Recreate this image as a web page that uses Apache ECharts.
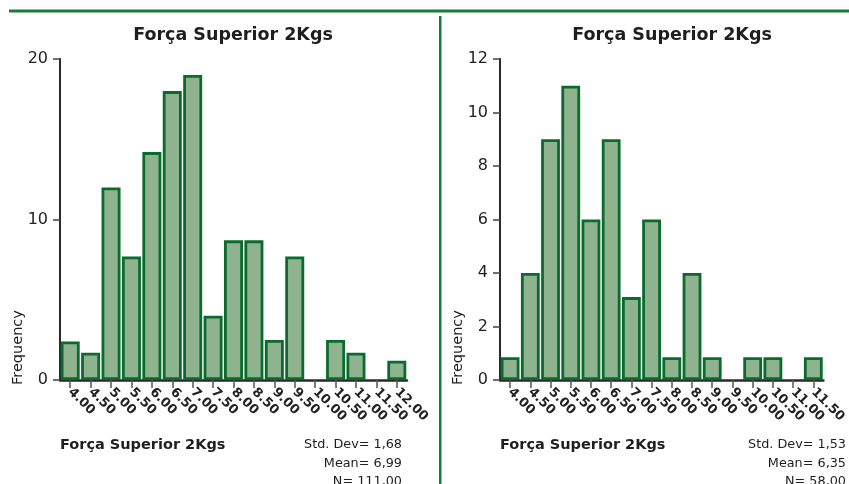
<!DOCTYPE html>
<html>
<head>
<meta charset="utf-8">
<script src="https://cdn.jsdelivr.net/npm/echarts@6/dist/echarts.min.js"></script>
<style>html,body{margin:0;padding:0;background:#fff;}#c{width:849px;height:484px;}</style>
</head>
<body>
<div id="c"></div>
<script>
const categoriesLeft = ['4.00','4.50','5.00','5.50','6.00','6.50','7.00','7.50','8.00','8.50','9.00','9.50','10.00','10.50','11.00','11.50','12.00'];
const valuesLeft = [2.4,1.7,12,7.7,14.2,18,19,4,8.7,8.7,2.5,7.7,0,2.5,1.7,0,1.2];
const categoriesRight = ['4.00','4.50','5.00','5.50','6.00','6.50','7.00','7.50','8.00','8.50','9.00','9.50','10.00','10.50','11.00','11.50'];
const valuesRight = [0.85,4,9,11,6,9,3.1,6,0.85,4,0.85,0,0.85,0.85,0,0.85];
const titleText = 'Força Superior 2Kgs';
const statsLeft = ['Std. Dev= 1,68','Mean= 6,99','N= 111,00'];
const statsRight = ['Std. Dev= 1,53','Mean= 6,35','N= 58,00'];
const yLeft = {max: 20, interval: 10};
const yRight = {max: 12, interval: 2};

const GREEN = '#0b6b2e';
const FILL = '#8fb38e';
const FONT = '"DejaVu Sans", sans-serif';

function xAxis(idx, cats) {
  return {
    type: 'category', gridIndex: idx, data: cats, boundaryGap: true,
    axisLine: {show: true, lineStyle: {color: '#2a2a2a', width: 2.5}},
    axisTick: {show: true, alignWithLabel: true, length: 8, lineStyle: {color: '#555', width: 1.5}},
    axisLabel: {rotate: -45, interval: 0, margin: 10, fontFamily: FONT, fontSize: 13, fontWeight: 'bold', color: '#222'},
    splitLine: {show: false}
  };
}
function yAxis(idx, cfg) {
  return {
    type: 'value', gridIndex: idx, min: 0, max: cfg.max, interval: cfg.interval,
    axisLine: {show: true, lineStyle: {color: '#2a2a2a', width: 2}},
    axisTick: {show: true, length: 7, lineStyle: {color: '#444', width: 1.5}},
    axisLabel: {margin: 12, fontFamily: FONT, fontSize: 16, color: '#222'},
    splitLine: {show: false}
  };
}
function barSeries(idx, vals) {
  return {
    type: 'bar', xAxisIndex: idx, yAxisIndex: idx,
    data: vals.map(v => v === 0 ? '-' : v),
    barCategoryGap: '7%',
    itemStyle: {color: FILL, borderColor: GREEN, borderWidth: 2.8},
    silent: true, animation: false
  };
}
function txt(x, y, text, opts) {
  return Object.assign({type: 'text', x: x, y: y, silent: true,
    style: Object.assign({text: text, fill: '#1e1e1e', font: '13px ' + FONT, textAlign: 'left', textVerticalAlign: 'middle'}, opts.style || {})},
    opts.rotation !== undefined ? {rotation: opts.rotation} : {});
}

const graphics = [
  {type: 'rect', shape: {x: 9, y: 9.5, width: 840, height: 3}, style: {fill: '#1b7a3e'}, silent: true},
  {type: 'rect', shape: {x: 439, y: 16, width: 2.5, height: 470}, style: {fill: '#1b7a3e'}, silent: true},
  txt(233, 35, titleText, {style: {font: 'bold 17.5px ' + FONT, textAlign: 'center'}}),
  txt(672, 35, titleText, {style: {font: 'bold 17.5px ' + FONT, textAlign: 'center'}}),
  txt(18, 385, 'Frequency', {rotation: Math.PI / 2, style: {font: '14.5px ' + FONT}}),
  txt(458, 385, 'Frequency', {rotation: Math.PI / 2, style: {font: '14.5px ' + FONT}}),
  txt(60, 445, titleText, {style: {font: 'bold 14.5px ' + FONT}}),
  txt(500, 445, titleText, {style: {font: 'bold 14.5px ' + FONT}})
];
statsLeft.forEach((s, i) => graphics.push(txt(402, 445 + i * 18.5, s, {style: {font: '12.8px ' + FONT, textAlign: 'right'}})));
statsRight.forEach((s, i) => graphics.push(txt(846, 445 + i * 18.5, s, {style: {font: '12.8px ' + FONT, textAlign: 'right'}})));

const chart = echarts.init(document.getElementById('c'), null, {renderer: 'canvas'});
chart.setOption({
  animation: false,
  backgroundColor: '#fff',
  grid: [
    {left: 60, right: 442, top: 59, bottom: 104, containLabel: false},
    {left: 500, right: 23, top: 59, bottom: 104, containLabel: false}
  ],
  xAxis: [xAxis(0, categoriesLeft), xAxis(1, categoriesRight)],
  yAxis: [yAxis(0, yLeft), yAxis(1, yRight)],
  series: [barSeries(0, valuesLeft), barSeries(1, valuesRight)],
  graphic: graphics
});
</script>
</body>
</html>
